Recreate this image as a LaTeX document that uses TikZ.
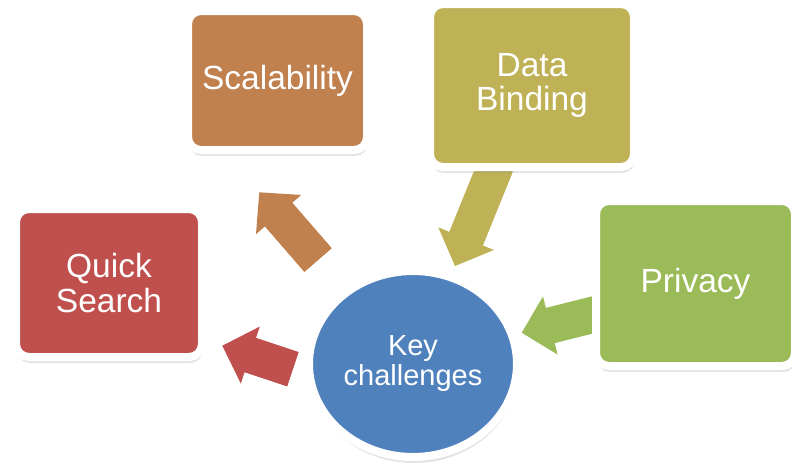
\documentclass[tikz,border=0pt]{standalone}
\usepackage{fontspec}
\setmainfont{Liberation Sans}
\usetikzlibrary{arrows.meta,shapes.geometric,shadows}

\definecolor{keyblue}{HTML}{4F81BD}
\definecolor{quickred}{HTML}{C0504D}
\definecolor{scalorange}{HTML}{C0814F}
\definecolor{dataolive}{HTML}{BFB256}
\definecolor{privgreen}{HTML}{9BBB59}

\tikzset{
  tile/.style={rectangle, rounded corners=13pt, draw=white, line width=8pt,
               text=white, align=center, inner sep=0pt,
               font=\fontsize{33.5}{34.7}\selectfont,
               drop shadow={opacity=0.22, shadow xshift=1pt, shadow yshift=-6pt}},
  hub/.style={ellipse, draw=white, line width=8pt, fill=keyblue,
              text=white, align=center, inner sep=0pt,
              font=\fontsize{29}{30}\selectfont,
              drop shadow={opacity=0.22, shadow xshift=1pt, shadow yshift=-6pt}},
  fatarrow/.style={line width=36pt,
                   -{Triangle[length=29.5pt,width=60pt,line width=0pt]},
                   postaction={draw, arrows=-, shorten >=26pt}}
}

\begin{document}
\begin{tikzpicture}[x=1pt,y=-1pt]
  \useasboundingbox (0,0) rectangle (792,463);

  % ------- arrow ends -------
  \coordinate (scal-tail)  at (318,260);
  \coordinate (scal-tip)   at (259.3,192.3);
  \coordinate (quick-tail) at (292.8,369.2);
  \coordinate (quick-tip)  at (222.3,345.7);
  \coordinate (data-tail)  at (496,165);
  \coordinate (data-tip)   at (455,266);
  \coordinate (priv-tail)  at (600,313);
  \coordinate (priv-tip)   at (521.7,332.7);

  % ------- block arrows -------
  \draw[fatarrow, scalorange] (scal-tail)  -- (scal-tip);
  \draw[fatarrow, quickred]   (quick-tail) -- (quick-tip);
  \draw[fatarrow, dataolive]  (data-tail)  -- (data-tip);
  \draw[fatarrow, privgreen]  (priv-tail)  -- (priv-tip);

  % ------- challenge tiles -------
  \node[tile, fill=scalorange, minimum width=179pt, minimum height=139pt]
       (scal)  at (277.5,80.5) {Scalability};
  \node[tile, fill=dataolive,  minimum width=204pt, minimum height=163pt]
       (data)  at (532,85.5)   {Data\\Binding};
  \node[tile, fill=quickred,   minimum width=186pt, minimum height=148pt]
       (quick) at (109,283)    {Quick\\Search};
  \node[tile, fill=privgreen,  minimum width=199pt, minimum height=165pt]
       (priv)  at (695.5,283.5) {Privacy};

  % ------- centre -------
  \node[hub, minimum width=208pt, minimum height=186pt]
       (key) at (413,364) {Key\\challenges};
\end{tikzpicture}
\end{document}
